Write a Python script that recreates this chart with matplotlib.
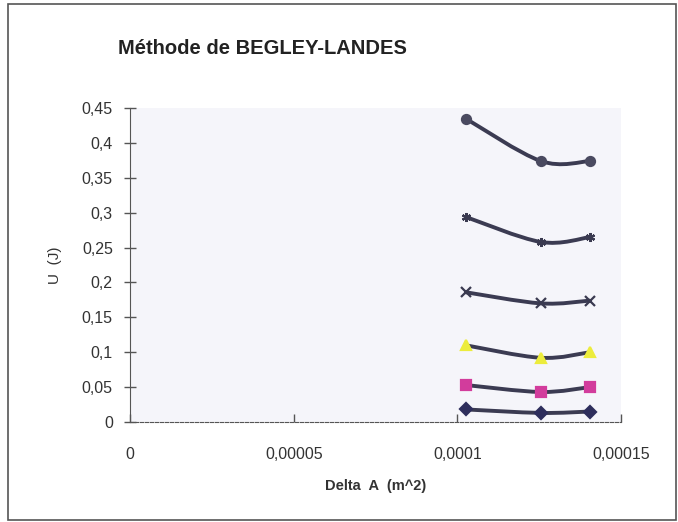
import numpy as np
from matplotlib import pyplot as plt
from matplotlib.path import Path
from matplotlib.patches import PathPatch, Rectangle

plt.rcParams['font.family'] = ['Liberation Sans', 'DejaVu Sans']

# Delta A (m^2) for the three specimens
DELTA_A = [0.0001025, 0.0001255, 0.0001405]

# U (J) at each displacement level
U_1 = [0.018, 0.013, 0.015]
U_2 = [0.053, 0.043, 0.050]
U_3 = [0.110, 0.092, 0.100]
U_4 = [0.186, 0.170, 0.174]
U_5 = [0.294, 0.258, 0.265]
U_6 = [0.435, 0.374, 0.374]

SERIES = [U_1, U_2, U_3, U_4, U_5, U_6]
MARKERS = ['D', 's', '^', 'x', (6, 2, 0), 'o']
MARKER_COLORS = ['#2e2e5c', '#d23c9c', '#ecec3c', '#3a3a50', '#3a3a50', '#4a4a60']
LINE_COLOR = '#3b3b52'

Y_TICKS = [0, 0.05, 0.1, 0.15, 0.2, 0.25, 0.3, 0.35, 0.4, 0.45]
Y_LABELS = ['0', '0,05', '0,1', '0,15', '0,2', '0,25', '0,3', '0,35', '0,4', '0,45']
X_TICKS = [0, 0.00005, 0.0001, 0.00015]
X_LABELS = ['0', '0,00005', '0,0001', '0,00015']


def smooth_path(xs, ys):
    # excel-like smoothed line: catmull-rom segments as cubic beziers
    pts = np.column_stack([xs, ys])
    ext = np.vstack([pts[0], pts, pts[-1]])
    verts = [pts[0]]
    codes = [Path.MOVETO]
    for i in range(1, len(pts)):
        p0, p1, p2, p3 = ext[i - 1], ext[i], ext[i + 1], ext[i + 2]
        verts += [p1 + (p2 - p0) / 6, p2 - (p3 - p1) / 6, p2]
        codes += [Path.CURVE4] * 3
    return Path(verts, codes)


fig = plt.figure(figsize=(6.78, 5.22), dpi=100)
fig.patches.append(Rectangle((0.012, 0.004), 0.985, 0.988, transform=fig.transFigure,
                             fill=False, edgecolor='#555555', linewidth=1.2))

ax = fig.add_axes([0.192, 0.1916, 0.724, 0.6014])
ax.set_facecolor('#f5f5fa')

for ys, mk, mc in zip(SERIES, MARKERS, MARKER_COLORS):
    ax.add_patch(PathPatch(smooth_path(DELTA_A, ys), fill=False,
                           edgecolor=LINE_COLOR, linewidth=2.8, zorder=3))
    ax.plot(DELTA_A, ys, linestyle='none', marker=mk, markersize=6.5,
            color=mc, markeredgecolor=mc, markeredgewidth=1.6, zorder=4)

ax.set_xlim(0, 0.00015)
ax.set_ylim(0, 0.45)
ax.set_xticks(X_TICKS)
ax.set_xticklabels(X_LABELS)
ax.set_yticks(Y_TICKS)
ax.set_yticklabels(Y_LABELS)

for s in ['top', 'right']:
    ax.spines[s].set_visible(False)
ax.spines['left'].set_color('#555555')
ax.spines['bottom'].set_color('#555555')
ax.spines['bottom'].set_linestyle((0, (3, 1.5)))

ax.tick_params(axis='y', direction='inout', length=9, width=1, colors='#555555',
               labelcolor='#333333', labelsize=11.5, pad=8)
ax.tick_params(axis='x', direction='in', length=6, width=1, colors='#555555',
               labelcolor='#333333', labelsize=11.5, pad=18)

fig.text(0.387, 0.908, 'Méthode de BEGLEY-LANDES', ha='center', va='center',
         fontsize=14.5, fontweight='bold', color='#222222')
ax.set_xlabel('Delta  A  (m^2)', fontsize=10.5, fontweight='bold', color='#333333',
              labelpad=12)
ax.set_ylabel('U  (J)', fontsize=11, color='#333333', labelpad=14)

fig.savefig('out.png', dpi=100)
